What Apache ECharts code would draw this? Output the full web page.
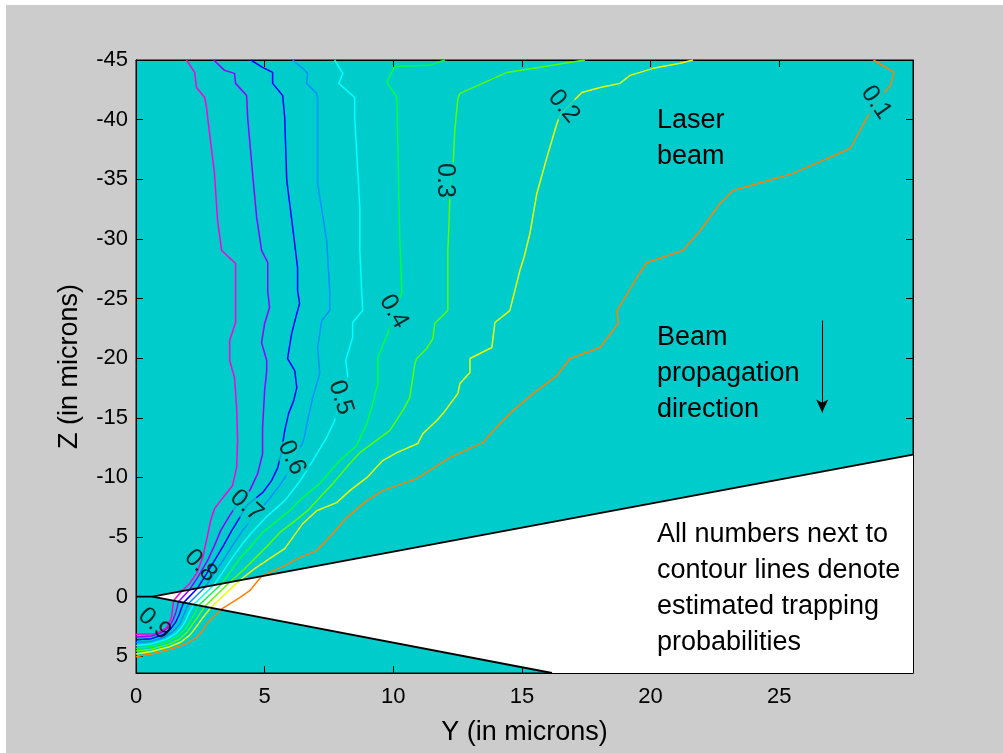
<!DOCTYPE html>
<html><head><meta charset="utf-8">
<script src="https://cdn.jsdelivr.net/npm/echarts@6/dist/echarts.min.js"></script>
<style>html,body{margin:0;padding:0;background:#fff;}#c{width:1003px;height:753px;}</style>
</head><body><div id="c"></div>
<script>
// ---- data (Y, Z in microns) ----
const levels = ['0.1','0.2','0.3','0.4','0.5','0.6','0.7','0.8','0.9'];
const xTicks = [0,5,10,15,20,25];
const zTicks = [-45,-40,-35,-30,-25,-20,-15,-10,-5,0,5];

const c01 = [[28.66,-45],[29.47,-43.96],[29.32,-42.87],[28.77,-41.44],[28.42,-40.18],[27.76,-37.58],[25.54,-35.49],[23.21,-34.06],[22.70,-32.97],[21.93,-30.70],[21.26,-29.03],[19.86,-28.02],[19.47,-26.76],[18.70,-23.99],[18.74,-22.90],[18.04,-20.89],[16.87,-19.97],[16.36,-18.54],[15.43,-17.03],[14.65,-15.60],[14.14,-14.51],[13.48,-12.92],[12.20,-11.66],[10.91,-9.90],[9.59,-8.89],[8.97,-8.05],[8.19,-6.63],[7.65,-5.29],[7.02,-3.86],[6.36,-3.27],[5.78,-2.60],[4.88,-1.71],[4.42,-0.50],[4.03,0.08],[3.29,1.09],[2.78,2.18],[2.59,2.85],[2.35,3.44],[1.96,3.94],[1.42,4.36],[0.64,4.78],[0,5.03]];
const c02 = [[21.65,-45],[21.15,-44.72],[20.10,-44.30],[19.59,-43.96],[19.20,-43.71],[18.81,-43.04],[18.04,-42.70],[17.33,-42.28],[16.87,-41.28],[16.48,-40.35],[16.36,-39.68],[15.97,-36.83],[15.58,-33.81],[15.31,-30.45],[15.08,-28.44],[14.92,-27.35],[14.53,-23.99],[13.95,-22.99],[13.83,-20.89],[12.98,-19.97],[12.98,-18.79],[12.59,-17.87],[12.51,-17.03],[11.93,-15.35],[11.69,-14.77],[11.15,-13.67],[10.95,-12.84],[10.14,-12.08],[9.59,-11.41],[8.97,-9.98],[8.31,-8.89],[7.80,-7.89],[7.02,-7.21],[6.48,-6.12],[6.09,-4.95],[5.78,-4.03],[5.19,-3.19],[4.61,-2.35],[4.03,-1.37],[2.90,0.93],[2.55,1.90],[2.35,2.50],[2.10,3.20],[1.75,3.80],[1.30,4.20],[0.60,4.60],[0,4.80]];
const c03 = [[17.45,-45],[14.42,-43.96],[12.59,-42.20],[12.51,-41.78],[12.39,-39.09],[12.32,-35.99],[12.24,-34.90],[12.20,-33.64],[12.16,-30.96],[12.12,-29.03],[12.12,-23.99],[11.61,-22.90],[11.54,-21.64],[11.30,-20.81],[10.91,-19.97],[10.84,-19.55],[10.64,-16.69],[10.37,-15.60],[9.86,-13.93],[8.70,-12.08],[8.31,-11.16],[7.65,-9.48],[7.14,-8.31],[6.67,-7.21],[6.09,-6.21],[5.58,-5.37],[5.12,-4.28],[4.61,-3.19],[4.14,-2.18],[3.64,-1.21],[2.67,0.83],[2.40,1.70],[2.20,2.30],[2.00,2.95],[1.70,3.55],[1.25,4.00],[0.60,4.40],[0,4.56]];
const c04 = [[12.00,-45],[11.42,-44.55],[10.06,-44.46],[9.98,-44.13],[9.75,-43.12],[10.14,-41.86],[10.25,-30.12],[10.33,-25.67],[10.33,-25.42],[10.02,-23.91],[9.79,-22.06],[9.40,-20.05],[9.40,-17.87],[9.20,-16.19],[8.97,-14.51],[8.58,-12.67],[7.92,-11.41],[7.14,-9.48],[6.48,-8.31],[5.97,-7.21],[5.39,-6.21],[4.92,-5.37],[4.49,-4.28],[4.03,-3.19],[3.64,-2.01],[3.33,-1.08],[2.43,0.74],[2.25,1.50],[2.10,2.10],[1.90,2.75],[1.60,3.35],[1.20,3.80],[0.60,4.18],[0,4.32]];
const c05 = [[7.72,-45],[8.04,-43.88],[7.88,-43.04],[8.19,-42.45],[8.50,-41.86],[8.50,-40.18],[8.70,-32.63],[8.70,-29.03],[8.77,-25.67],[8.81,-23.99],[8.42,-22.99],[8.42,-21.73],[8.15,-19.80],[8.23,-18.54],[7.96,-16.69],[7.72,-14.77],[7.41,-13.34],[6.87,-11.41],[6.36,-9.65],[5.78,-8.05],[5.12,-6.80],[4.57,-5.54],[4.14,-4.45],[3.72,-3.19],[3.33,-1.93],[3.02,-0.96],[2.24,0.66],[2.08,1.30],[1.95,1.90],[1.80,2.50],[1.55,3.10],[1.15,3.60],[0.60,3.96],[0,4.09]];
const c06 = [[6.09,-45],[6.48,-44.30],[6.67,-43.88],[6.63,-43.04],[7.02,-42.20],[7.06,-41.86],[7.06,-34.65],[7.41,-29.87],[7.53,-25.67],[7.53,-23.99],[7.22,-23.15],[7.06,-20.89],[7.14,-18.71],[6.87,-16.69],[6.67,-14.77],[6.52,-13.17],[6.21,-11.58],[5.89,-10.32],[5.58,-9.31],[5.12,-8.05],[4.61,-6.80],[4.14,-5.54],[3.75,-4.28],[3.33,-2.85],[2.98,-1.76],[2.70,-0.83],[2.04,0.58],[1.92,1.20],[1.82,1.70],[1.70,2.30],[1.45,2.90],[1.10,3.40],[0.60,3.73],[0,3.85]];
const c07 = [[4.46,-45],[4.92,-44.38],[5.31,-43.96],[5.31,-43.04],[5.70,-42.03],[5.78,-40.18],[5.86,-34.90],[6.09,-30.96],[6.28,-27.60],[6.28,-25.67],[6.36,-24.58],[6.25,-23.74],[6.05,-22.06],[5.89,-19.97],[6.17,-18.96],[6.25,-17.53],[6.13,-16.44],[5.93,-15.35],[5.78,-13.93],[5.66,-12.25],[5.51,-10.82],[5.27,-9.73],[4.92,-8.72],[4.30,-7.63],[4.03,-6.63],[3.72,-5.54],[3.40,-4.28],[3.05,-3.02],[2.70,-1.76],[2.39,-0.71],[1.85,0.50],[1.76,1.00],[1.68,1.50],[1.55,2.10],[1.35,2.70],[1.05,3.20],[0.60,3.52],[0,3.62]];
const c08 = [[3.02,-45],[3.44,-44.13],[3.83,-43.88],[3.87,-43.04],[4.30,-42.03],[4.34,-40.18],[4.53,-35.49],[4.69,-31.80],[4.88,-29.03],[5.12,-28.02],[5.12,-25.67],[5.19,-24.24],[5.00,-22.90],[4.88,-21.31],[5.08,-19.80],[5.08,-18.96],[5.00,-17.28],[4.92,-14.18],[4.92,-12.00],[4.73,-10.32],[4.42,-8.89],[4.03,-8.05],[3.64,-6.80],[3.29,-5.54],[3.05,-4.28],[2.78,-3.02],[2.39,-1.59],[2.08,-0.58],[1.65,0.42],[1.60,0.90],[1.55,1.30],[1.45,1.90],[1.30,2.50],[1.00,3.00],[0.60,3.30],[0,3.38]];
const c09 = [[1.96,-45],[2.28,-43.96],[2.35,-42.70],[2.67,-41.86],[2.74,-41.02],[2.86,-38.84],[3.05,-35.49],[3.17,-31.54],[3.33,-29.03],[3.87,-27.94],[3.87,-25.67],[3.87,-22.99],[3.64,-21.48],[3.64,-19.80],[3.83,-18.37],[3.91,-15.86],[3.95,-13.09],[3.91,-10.82],[3.75,-9.31],[3.44,-8.47],[3.05,-7.38],[2.90,-6.38],[2.78,-5.12],[2.59,-3.27],[2.35,-1.93],[2.08,-1.09],[1.77,-0.46],[1.46,0.34],[1.38,1.76],[1.19,2.60],[0.80,3.10],[0,3.15]];

// contour label anchor points and text angles
const labelPos = [[28.77,-41.44],[16.63,-41.11],[12.00,-34.90],[10.02,-23.91],[7.96,-16.69],[6.05,-11.66],[4.30,-7.63],[2.51,-2.60],[0.72,2.27]];
const labelRot = [-55,-50,-90,-60,-72,-65,-42,-45,-42];

// excluded cone region (white wedge)
const wedgeFill = [[0.64,0],[30.2,-11.91],[30.2,6.4],[16.17,6.4]];
const wedgeUpper = [[0,0],[0.64,0],[30.2,-11.91]];
const wedgeLower = [[0.64,0],[16.17,6.4]];

// beam direction arrow
const arrow = [[26.67,-23.15],[26.67,-15.44]];

// ---- chart ----
const contours = [c01,c02,c03,c04,c05,c06,c07,c08,c09];
const colors = ['#ff8000','#eaff00','#55ff00','#00ff40','#00ffff','#0090ff','#0000ff','#9500ff','#ff00d5'];
const FONT = 'Liberation Sans';
const chart = echarts.init(document.getElementById('c'));

const series = [];
series.push({
  type:'custom', silent:true, z:2, clip:true,
  data:[[0,0]],
  renderItem:(params, api)=>({type:'polygon', shape:{points: wedgeFill.map(p=>api.coord(p))}, style:{fill:'#ffffff'}})
});
contours.forEach((c,i)=>series.push({
  type:'line', data:c, symbol:'none', showSymbol:false, silent:true, z:3,
  lineStyle:{color:colors[i], width:1.5}
}));
[wedgeUpper, wedgeLower].forEach(w=>series.push({
  type:'line', data:w, symbol:'none', silent:true, z:4,
  lineStyle:{color:'#000', width:1.8}
}));
series.push({
  type:'scatter', symbolSize:0, silent:true, z:5,
  data: labelPos.map((p,i)=>({value:p, label:{rotate:labelRot[i], formatter:levels[i],
      backgroundColor: i>=7 ? 'transparent' : '#00cccc'}})),
  label:{show:true, position:'inside', color:'#000', fontSize:25, fontFamily:FONT, padding:[0,1]}
});
series.push({
  type:'line', data:[], silent:true, z:5,
  markLine:{silent:true, symbol:['none','arrow'], symbolSize:[9,13], animation:false,
    lineStyle:{color:'#000', width:1, type:'solid'}, label:{show:false},
    data:[[{coord:arrow[0]},{coord:arrow[1]}]]}
});

const axisCommon = {
  axisLine:{show:true, onZero:false, lineStyle:{color:'#000', width:1}},
  splitLine:{show:false}
};
const labelStyle = {color:'#000', fontSize:22, fontFamily:FONT};
const txt = (top, text) => ({type:'text', left:657, top:top, silent:true, z:100,
  style:{text:text, fill:'#000', fontSize:27, fontFamily:FONT, lineHeight:36}});

chart.setOption({
  animation:false,
  backgroundColor:'#cccccc',
  grid:{left:136, top:60, width:777, height:613, show:true, backgroundColor:'#00cccc', borderColor:'#000', borderWidth:1},
  xAxis:[
    Object.assign({type:'value', min:0, max:30.2, position:'bottom',
      axisTick:{show:true, inside:true, length:7, customValues:xTicks, lineStyle:{color:'#000'}},
      axisLabel:Object.assign({customValues:xTicks, margin:13}, labelStyle),
      name:'Y (in microns)', nameLocation:'middle', nameGap:46,
      nameTextStyle:{color:'#000', fontSize:27, fontFamily:FONT}}, axisCommon),
    Object.assign({type:'value', min:0, max:30.2, position:'top',
      axisTick:{show:true, inside:true, length:7, customValues:xTicks, lineStyle:{color:'#000'}},
      axisLabel:{show:false}}, axisCommon)
  ],
  yAxis:[
    Object.assign({type:'value', inverse:true, min:-45, max:6.4, position:'left',
      axisTick:{show:true, inside:true, length:7, customValues:zTicks, lineStyle:{color:'#000'}},
      axisLabel:Object.assign({customValues:zTicks, margin:8}, labelStyle),
      name:'Z (in microns)', nameLocation:'middle', nameGap:53, nameRotate:90,
      nameTextStyle:{color:'#000', fontSize:27, fontFamily:FONT}}, axisCommon),
    Object.assign({type:'value', inverse:true, min:-45, max:6.4, position:'right',
      axisTick:{show:true, inside:true, length:7, customValues:zTicks, lineStyle:{color:'#000'}},
      axisLabel:{show:false}}, axisCommon)
  ],
  graphic:[
    {type:'rect', left:0, top:0, silent:true, z:100, shape:{width:1003, height:5}, style:{fill:'#ffffff'}},
    {type:'rect', left:0, top:0, silent:true, z:100, shape:{width:6, height:753}, style:{fill:'#ffffff'}},
    txt(103, 'Laser\nbeam'),
    txt(320, 'Beam\npropagation\ndirection'),
    txt(517, 'All numbers next to\ncontour lines denote\nestimated trapping\nprobabilities')
  ],
  series: series
});
</script></body></html>
